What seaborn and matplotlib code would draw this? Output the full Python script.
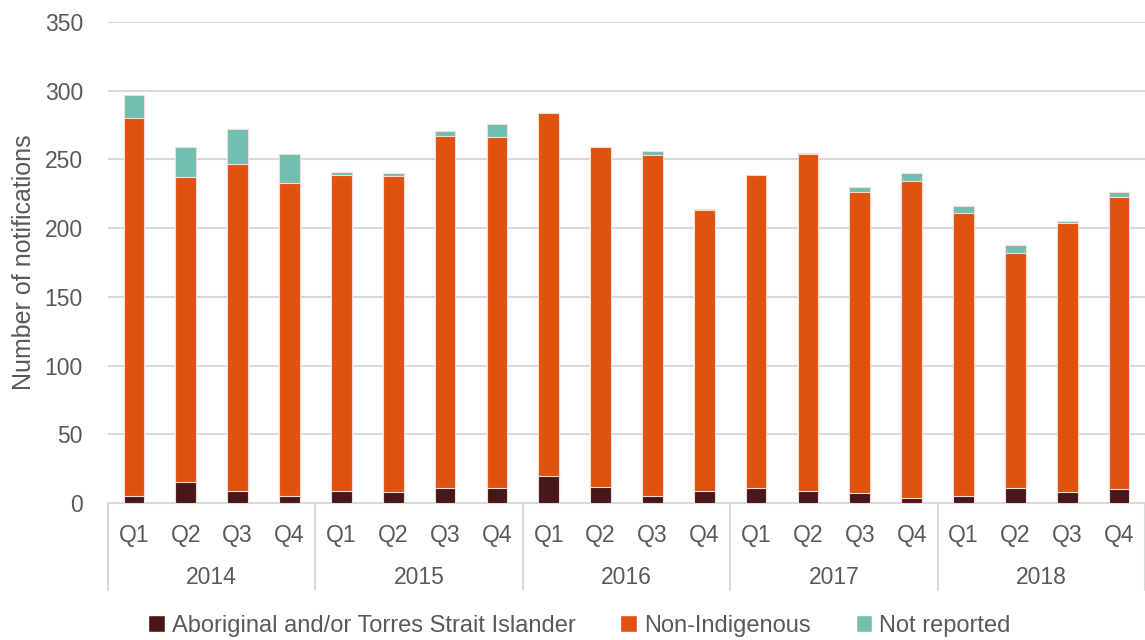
import matplotlib
matplotlib.use("Agg")
import matplotlib.pyplot as plt
import matplotlib.transforms as mtransforms
from matplotlib.patches import Patch
import numpy as np
import pandas as pd
import seaborn as sns

# data
years = ["2014", "2015", "2016", "2017", "2018"]
quarters = ["Q1", "Q2", "Q3", "Q4"]
aboriginal = [5, 15, 9, 5, 9, 8, 11, 11, 20, 12, 5, 9, 11, 9, 7, 4, 5, 11, 8, 10]
non_indigenous = [275, 222, 238, 228, 230, 230, 256, 255, 264, 247, 248, 204,
                  228, 245, 219, 230, 206, 171, 196, 213]
not_reported = [17, 22, 25, 21, 2, 2, 4, 10, 0, 0, 3, 1, 0, 1, 4, 6, 5, 6, 1, 3]

c_abor = "#471719"
c_non = "#E1520E"
c_nr = "#72BFB1"
grey = "#595959"

labels = [f"{y} {q}" for y in years for q in quarters]
df = pd.DataFrame({"period": labels, "abor": aboriginal,
                   "non": non_indigenous, "nr": not_reported})
df["lvl2"] = df["abor"] + df["non"]
df["lvl3"] = df["lvl2"] + df["nr"]

sns.set_theme(style="white")
plt.rcParams["font.family"] = ["Liberation Sans", "DejaVu Sans"]

fig = plt.figure(figsize=(11.45, 6.4), dpi=100)
ax = fig.add_axes([108 / 1145, 1 - 503 / 640, 1037 / 1145, 481 / 640])

# stacked look: draw cumulative totals, largest first
for col, colr in [("lvl3", c_nr), ("lvl2", c_non), ("abor", c_abor)]:
    sns.barplot(data=df, x="period", y=col, order=labels, color=colr,
                width=0.4, edgecolor="#f2dcd5", linewidth=0.8, saturation=1,
                ax=ax, zorder=3)

ax.set_xlim(-0.5, len(labels) - 0.5)
ax.set_ylim(0, 350)
ax.set_yticks(np.arange(0, 351, 50))
ax.yaxis.grid(True, color="#d9d9d9", linewidth=1.5, zorder=0)
ax.set_axisbelow(True)
for s in ["left", "right", "top"]:
    ax.spines[s].set_visible(False)
ax.spines["bottom"].set_color("#d9d9d9")
ax.spines["bottom"].set_linewidth(1.5)

ax.set_xticks(range(len(labels)))
ax.set_xticklabels([q for y in years for q in quarters])
ax.tick_params(axis="both", length=0, labelsize=16.5, colors=grey)
ax.tick_params(axis="x", pad=15)
ax.tick_params(axis="y", pad=18)
ax.set_xlabel("")
ax.set_ylabel("Number of notifications", fontsize=18, color=grey, labelpad=6)

# group separators and year labels
trans = mtransforms.blended_transform_factory(ax.transData, ax.transAxes)
for b in np.arange(-0.5, len(labels), 4):
    ax.plot([b, b], [0, -0.181], transform=trans, color="#d9d9d9",
            linewidth=1.5, clip_on=False)
for i, y in enumerate(years):
    ax.text(i * 4 + 1.5, -0.154, y, transform=trans, ha="center", va="center",
            fontsize=16.5, color=grey)

handles = [Patch(facecolor=c_abor, label="Aboriginal and/or Torres Strait Islander"),
           Patch(facecolor=c_non, label="Non-Indigenous"),
           Patch(facecolor=c_nr, label="Not reported")]
fig.legend(handles=handles, loc="center", bbox_to_anchor=(0.506, 1 - 626 / 640),
           ncol=3, frameon=False, fontsize=17, handlelength=0.7,
           handleheight=0.7, handletextpad=0.3, columnspacing=1.9,
           labelcolor=grey)

fig.savefig("out.png", dpi=100)
